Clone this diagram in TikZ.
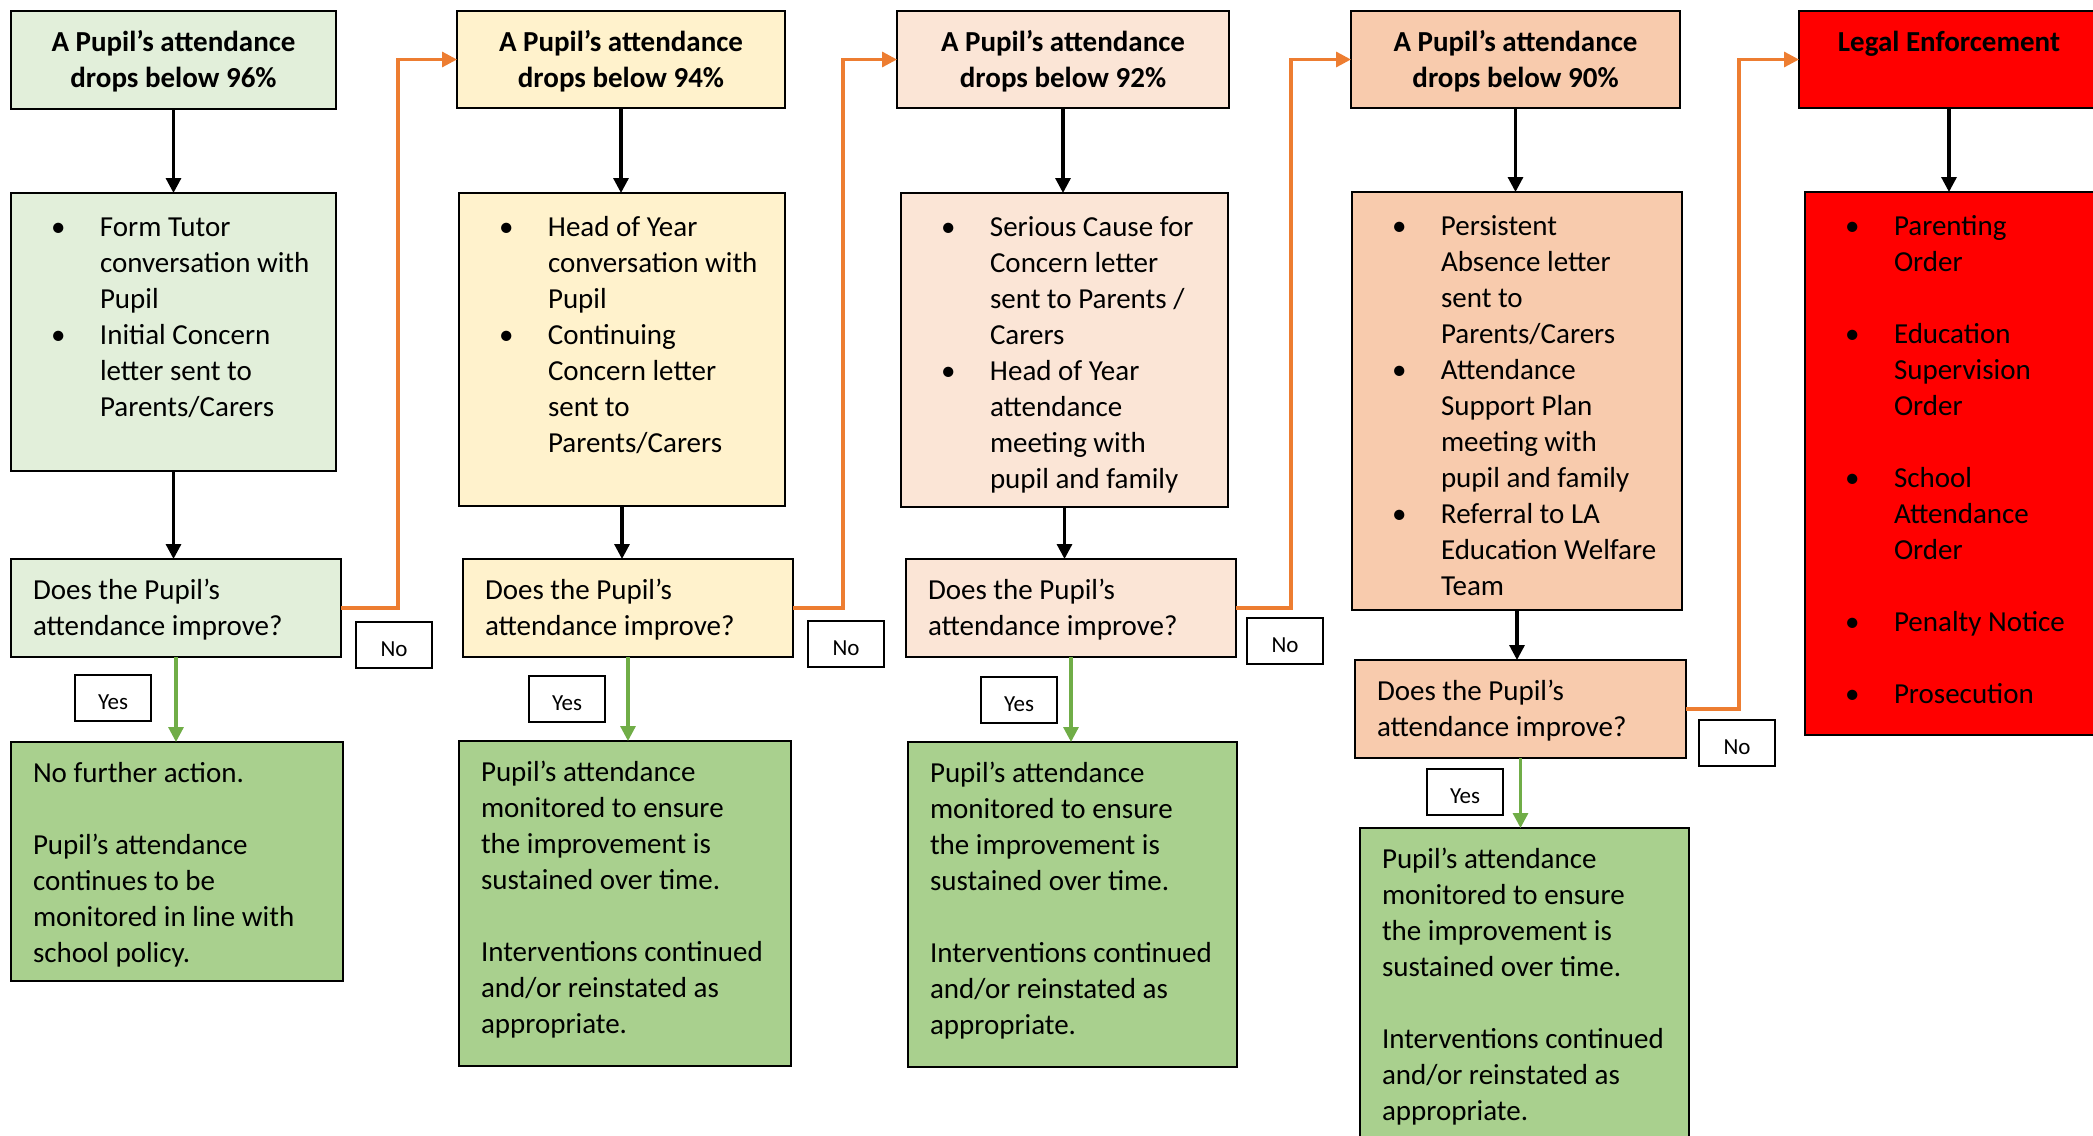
\documentclass[tikz,border=0pt]{standalone}
\usepackage{fontspec}
\setmainfont{Carlito}
\usetikzlibrary{arrows.meta}
\definecolor{paleGreen}{HTML}{E2EFDA}
\definecolor{paleYellow}{HTML}{FFF2CC}
\definecolor{palePeach}{HTML}{FBE5D6}
\definecolor{peach}{HTML}{F8CBAD}
\definecolor{legalRed}{HTML}{FF0000}
\definecolor{okGreen}{HTML}{A9D08E}
\definecolor{noOrange}{HTML}{ED7D31}
\definecolor{yesGreen}{HTML}{70AD47}
\tikzstyle{block}    = [rectangle, draw, line width=1.3pt, inner sep=0pt, outer sep=0pt, anchor=north west, font=\fontsize{14.5}{18}\selectfont]
\tikzstyle{tag}      = [rectangle, draw, line width=1pt, fill=white, inner sep=0pt, outer sep=0pt, anchor=north west, minimum width=38pt, minimum height=23pt, text height=11pt, text depth=0pt, font=\fontsize{11.5}{14}\selectfont]
\tikzstyle{line}     = [draw, line width=1.6pt, -{Triangle[length=7.5pt,width=7.5pt]}]
\tikzstyle{noline}   = [line, draw=noOrange]
\tikzstyle{yesline}  = [line, draw=yesGreen]
\newcommand{\cell}[3]{\parbox[c][#2][t]{#1}{\vspace*{7.4pt}#3}}
\newcommand{\pad}{\leftskip=11pt\rightskip=0pt plus 1fil\relax\strut}
\newcommand{\bul}{\par\rightskip=0pt plus 1fil\hangindent=44.5pt\hangafter=1\noindent\strut\makebox[44.5pt][l]{\hspace{20pt}\textbullet}}
\newcommand{\bullets}[1]{\vspace*{1.5pt}#1}
\newcommand{\improve}{\pad Does the Pupil’s\\attendance improve?}
\newcommand{\monitor}{\pad Pupil’s attendance\\monitored to ensure\\the improvement is\\sustained over time.\\[18pt]Interventions continued\\and/or reinstated as\\appropriate.}

\begin{document}
\begin{tikzpicture}[x=0.5pt, y=-0.5pt]
	\useasboundingbox (0,0) rectangle (2093,1135);
	\clip (0,0) rectangle (2093,1135);

		% Node Setting %

		% 96 =======================================%
		\node [block, fill=paleGreen] (t1) at (11,11) {\cell{162.5pt}{49pt}{\centering\bfseries\strut A Pupil’s attendance\\drops below 96\%}};
		\node [block, fill=paleGreen] (b1) at (11,193) {\cell{162.5pt}{139pt}{\bullets{\bul Form Tutor\\conversation with\\Pupil\bul Initial Concern\\letter sent to\\Parents/Carers}}};
		\node [block, fill=paleGreen] (q1) at (11,559) {\cell{165pt}{49pt}{\improve}};
		\node [block, fill=okGreen] (o1) at (11,742) {\cell{166pt}{119.5pt}{\pad No further action.\\[18pt]Pupil’s attendance\\continues to be\\monitored in line with\\school policy.}};
		\node [tag] (yes1) at (75,675) {Yes};
		\node [tag] (no1) at (356,622) {No};
		% 94 =======================================%
		\node [block, fill=paleYellow] (t2) at (457,11) {\cell{164pt}{48.5pt}{\centering\bfseries\strut A Pupil’s attendance\\drops below 94\%}};
		\node [block, fill=paleYellow] (b2) at (459,193) {\cell{163pt}{156.5pt}{\bullets{\bul Head of Year\\conversation with\\Pupil\bul Continuing\\Concern letter\\sent to\\Parents/Carers}}};
		\node [block, fill=paleYellow] (q2) at (463,559) {\cell{165pt}{49pt}{\improve}};
		\node [block, fill=okGreen] (o2) at (459,741) {\cell{166pt}{162.5pt}{\monitor}};
		\node [tag] (yes2) at (529,676) {Yes};
		\node [tag] (no2) at (808,621) {No};
		% 92 =======================================%
		\node [block, fill=palePeach] (t3) at (897,11) {\cell{166pt}{48.5pt}{\centering\bfseries\strut A Pupil’s attendance\\drops below 92\%}};
		\node [block, fill=palePeach] (b3) at (901,193) {\cell{163.5pt}{157pt}{\bullets{\bul Serious Cause for\\Concern letter\\sent to Parents /\\Carers\bul Head of Year\\attendance\\meeting with\\pupil and family}}};
		\node [block, fill=palePeach] (q3) at (906,559) {\cell{165pt}{49pt}{\improve}};
		\node [block, fill=okGreen] (o3) at (908,742) {\cell{164.5pt}{162.5pt}{\monitor}};
		\node [tag] (yes3) at (981,677) {Yes};
		\node [tag] (no3) at (1247,618) {No};
		% 90 =======================================%
		\node [block, fill=peach] (t4) at (1351,11) {\cell{164.5pt}{48.5pt}{\centering\bfseries\strut A Pupil’s attendance\\drops below 90\%}};
		\node [block, fill=peach] (b4) at (1352,192) {\cell{165pt}{209pt}{\bullets{\bul Persistent\\Absence letter\\sent to\\Parents/Carers\bul Attendance\\Support Plan\\meeting with\\pupil and family\bul Referral to LA\\Education Welfare\\Team}}};
		\node [block, fill=peach] (q4) at (1355,660) {\cell{165.5pt}{49pt}{\improve}};
		\node [block, fill=okGreen] (o4) at (1360,828) {\cell{164.5pt}{200pt}{\monitor}};
		\node [tag] (yes4) at (1427,769) {Yes};
		\node [tag] (no4) at (1699,720) {No};
		% legal ====================================%
		\node [block, fill=legalRed] (t5) at (1799,11) {\cell{150pt}{48.5pt}{\centering\bfseries\strut Legal Enforcement}};
		\node [block, fill=legalRed] (l5) at (1805,192) {\cell{155pt}{271.5pt}{\bullets{\bul Parenting\\Order\par\vspace{18pt}\bul Education\\Supervision\\Order\par\vspace{18pt}\bul School\\Attendance\\Order\par\vspace{18pt}\bul Penalty Notice\par\vspace{18pt}\bul Prosecution}}};
		%=========================================%
		\coordinate (k1) at (398,0);
		\coordinate (k2) at (843,0);
		\coordinate (k3) at (1291,0);
		\coordinate (k4) at (1739,0);

		% Connection %

		\path [line] (t1.south) -- (t1.south |- b1.north);
		\path [line] (b1.south) -- (b1.south |- q1.north);
		\path [yesline] (q1.south) -- (q1.south |- o1.north);
		\path [noline] (q1.east) -- (q1.east -| k1) |- (t2.west);
		\path [line] (t2.south) -- (t2.south |- b2.north);
		\path [line] (b2.south) -- (b2.south |- q2.north);
		\path [yesline] (q2.south) -- (q2.south |- o2.north);
		\path [noline] (q2.east) -- (q2.east -| k2) |- (t3.west);
		\path [line] (t3.south) -- (t3.south |- b3.north);
		\path [line] (b3.south) -- (b3.south |- q3.north);
		\path [yesline] (q3.south) -- (q3.south |- o3.north);
		\path [noline] (q3.east) -- (q3.east -| k3) |- (t4.west);
		\path [line] (t4.south) -- (t4.south |- b4.north);
		\path [line] (b4.south) -- (b4.south |- q4.north);
		\path [yesline] (q4.south) -- (q4.south |- o4.north);
		\path [noline] (q4.east) -- (q4.east -| k4) |- (t5.west);
		\path [line] (t5.south) -- (t5.south |- l5.north);
\end{tikzpicture}
\end{document}
